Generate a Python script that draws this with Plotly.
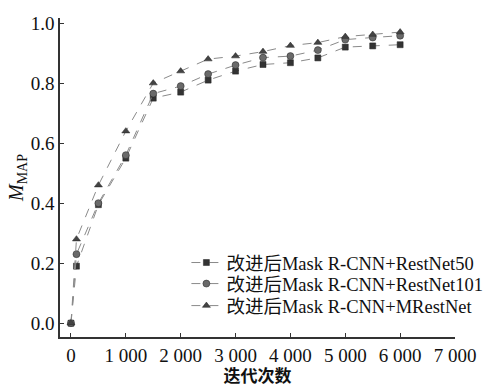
import plotly.graph_objects as go

iterations = [0, 100, 500, 1000, 1500, 2000, 2500, 3000, 3500, 4000, 4500, 5000, 5500, 6000]
restnet50 = [0.0, 0.19, 0.395, 0.55, 0.75, 0.77, 0.81, 0.84, 0.862, 0.868, 0.884, 0.92, 0.924, 0.928]
restnet101 = [0.0, 0.23, 0.40, 0.56, 0.765, 0.79, 0.83, 0.86, 0.885, 0.89, 0.91, 0.945, 0.952, 0.958]
mrestnet = [0.0, 0.28, 0.46, 0.64, 0.80, 0.84, 0.88, 0.89, 0.905, 0.925, 0.935, 0.955, 0.962, 0.97]
names = ["改进后Mask R-CNN+RestNet50", "改进后Mask R-CNN+RestNet101", "改进后Mask R-CNN+MRestNet"]
x_ticks = [0, 1000, 2000, 3000, 4000, 5000, 6000, 7000]
x_ticktext = ["0", "1 000", "2 000", "3 000", "4 000", "5 000", "6 000", "7 000"]
y_ticks = [0.0, 0.2, 0.4, 0.6, 0.8, 1.0]

font_family = "Liberation Serif, Noto Sans CJK SC, serif"

fig = go.Figure()
styles = [
    dict(symbol="square", color="#333333", size=6),
    dict(symbol="circle", color="#6a6a6a", size=7),
    dict(symbol="triangle-up", color="#444444", size=7),
]
legend_ids = ["legend", "legend2", "legend3"]
legend_y = [0.232, 0.166, 0.097]
for name, vals, st, lg in zip(names, [restnet50, restnet101, mrestnet], styles, legend_ids):
    fig.add_trace(go.Scatter(
        x=iterations, y=vals, name=name, mode="lines+markers", legend=lg,
        line=dict(color="#8a8a8a", width=1, dash="dash"),
        marker=dict(symbol=st["symbol"], color=st["color"], size=st["size"],
                    line=dict(color="#222222", width=0.5)),
    ))

legend_common = dict(x=0.32, xanchor="left", yanchor="middle", bgcolor="rgba(0,0,0,0)",
                     font=dict(size=18.5, family=font_family), itemwidth=30)

fig.update_layout(
    width=490, height=388,
    margin=dict(l=60, r=35, t=18, b=51, autoexpand=False),
    paper_bgcolor="white", plot_bgcolor="white",
    font=dict(family=font_family, size=18, color="#111111"),
    showlegend=True,
    legend=dict(y=legend_y[0], **legend_common),
    legend2=dict(y=legend_y[1], **legend_common),
    legend3=dict(y=legend_y[2], **legend_common),
    xaxis=dict(range=[-200, 7000], tickvals=x_ticks, ticktext=x_ticktext,
               showline=True, linecolor="#333333", linewidth=1.5, mirror=False,
               ticks="inside", ticklen=4, tickcolor="#333333", showgrid=False, zeroline=False,
               tickfont=dict(size=19), automargin=False,
               title=dict(text="<b>迭代次数</b>", font=dict(size=17, family=font_family), standoff=4)),
    yaxis=dict(range=[-0.046, 1.017], tickvals=y_ticks, tickformat=".1f",
               showline=True, linecolor="#333333", linewidth=1.5, mirror=False,
               ticks="inside", ticklen=4, tickcolor="#333333", showgrid=False, zeroline=False,
               tickfont=dict(size=19), automargin=False,
               title=dict(text="<i>M</i><sub>MAP</sub>", font=dict(size=20, family=font_family), standoff=2)),
)

fig.write_html("out.html", config={"displayModeBar": False},
               post_script="document.body.style.margin='0';document.body.style.overflow='hidden';")
